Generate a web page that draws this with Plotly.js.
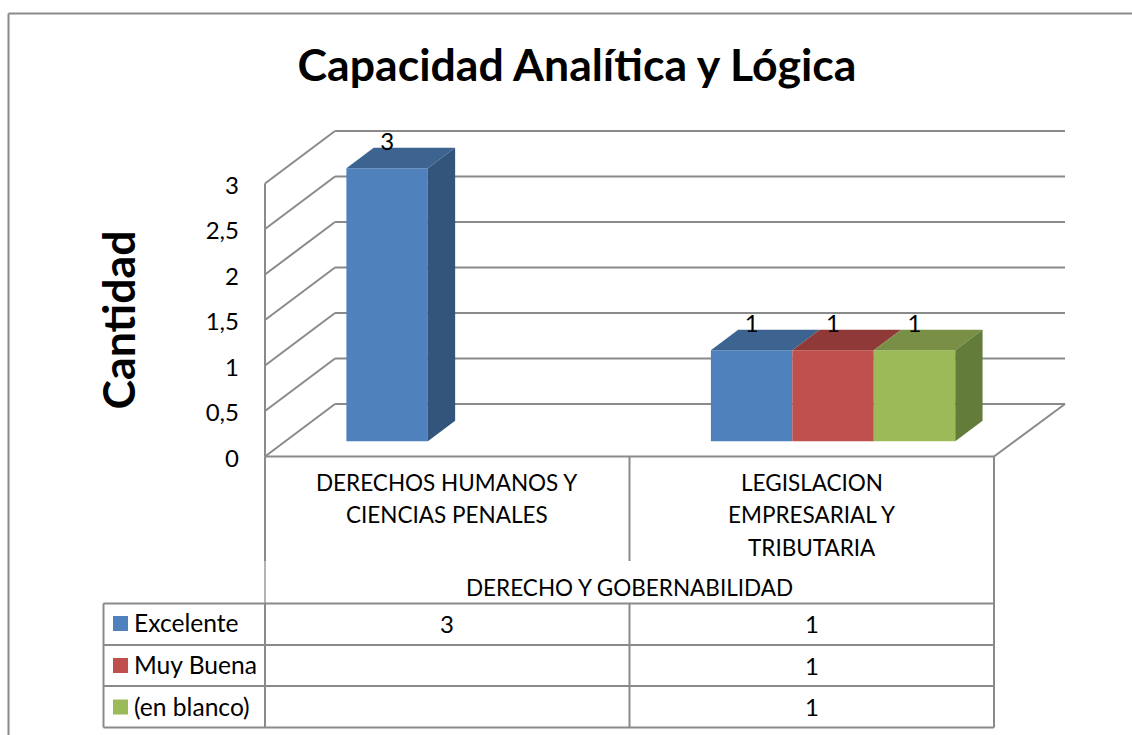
<!DOCTYPE html>
<html><head><meta charset="utf-8">
<script src="https://cdn.plot.ly/plotly-3.0.1.min.js"></script>
<style>html,body{margin:0;padding:0;background:#fff;overflow:hidden}</style>
</head><body><div id="chart" style="width:1132px;height:735px"></div>
<script>
// ---------- data ----------
const chartTitle = "Capacidad Analítica y Lógica";
const yTitle = "Cantidad";
const groupLabel = "DERECHO Y GOBERNABILIDAD";
const categoryLines = [
  ["DERECHOS HUMANOS Y", "CIENCIAS PENALES"],
  ["LEGISLACION", "EMPRESARIAL Y", "TRIBUTARIA"]
];
const seriesNames = ["Excelente", "Muy Buena", "(en blanco)"];
const excelente = [3, 1];
const muyBuena = [null, 1];
const enBlanco = [null, 1];
const yTicks = [0, 0.5, 1, 1.5, 2, 2.5, 3];
const yTickText = ["0", "0,5", "1", "1,5", "2", "2,5", "3"];

// ---------- style ----------
const frontColors = ["#4F81BD", "#C0504D", "#9BBB59"];
const topColors = ["#3D6491", "#8F3A38", "#788F45"];
const sideColors = ["#33547B", "#7A302E", "#647C39"];
const lineColor = "#8A8A8A";
const textFont = "Lato, 'Open Sans', sans-serif";

// ---------- geometry of the frame (pixels) ----------
const W = 1132, H = 735, plotBottom = 640;
const x0 = 265, catW = 364.5, y0 = 456.5, unitH = 91;
const depthDX = 70 / catW, depthDY = 52.5 / unitH;
const barFront = 0.29, barBack = 0.68;
const slots = 4.475, lead = 0.75;
const px = v => v / W, py = v => 1 - v / H;

const allSeries = [excelente, muyBuena, enBlanco];
const traces = [];

// front faces: real bars
allSeries.forEach((vals, s) => {
  traces.push({
    type: "bar", name: seriesNames[s], showlegend: false, hoverinfo: "skip",
    x: vals.map((_, c) => c + (lead + s + 0.5) / slots + barFront * depthDX),
    y: vals,
    base: vals.map(() => barFront * depthDY),
    width: 1 / slots,
    marker: {color: frontColors[s], line: {width: 0}}
  });
});
// top and side faces, projected from the values
allSeries.forEach((vals, s) => {
  vals.forEach((v, c) => {
    if (v === null) return;
    const xl = c + (lead + s) / slots, xr = xl + 1 / slots;
    const X = (x, d) => x + d * depthDX;
    const Y = (val, d) => val + d * depthDY;
    traces.push({
      type: "scatter", mode: "lines", line: {width: 0}, fill: "toself", fillcolor: topColors[s],
      hoverinfo: "skip", showlegend: false,
      x: [X(xl, barFront), X(xr, barFront), X(xr, barBack), X(xl, barBack), X(xl, barFront)],
      y: [Y(v, barFront), Y(v, barFront), Y(v, barBack), Y(v, barBack), Y(v, barFront)]
    });
    const next = allSeries[s + 1];
    if (!next || next[c] === null) {
      traces.push({
        type: "scatter", mode: "lines", line: {width: 0}, fill: "toself", fillcolor: sideColors[s],
        hoverinfo: "skip", showlegend: false,
        x: [X(xr, barFront), X(xr, barBack), X(xr, barBack), X(xr, barFront), X(xr, barFront)],
        y: [Y(0, barFront), Y(0, barBack), Y(v, barBack), Y(v, barFront), Y(0, barFront)]
      });
    }
  });
});
// data labels
allSeries.forEach((vals, s) => {
  traces.push({
    type: "scatter", mode: "text", hoverinfo: "skip", showlegend: false,
    x: vals.map((_, c) => c + (lead + s + 0.5) / slots + barFront * depthDX),
    y: vals.map(v => v === null ? null : v + barFront * depthDY + 24 / unitH),
    text: vals.map(v => v === null ? "" : String(v)),
    textposition: "middle center",
    textfont: {family: textFont, size: 24, color: "#000"}
  });
});

// ---------- frame ----------
const shapes = [];
const seg = (xa, ya, xb, yb, below) => shapes.push({
  type: "line", xref: "paper", yref: "paper", layer: below ? "below" : "above",
  x0: px(xa), y0: py(ya), x1: px(xb), y1: py(yb),
  line: {color: lineColor, width: 2}
});
const dseg = (xa, ya, xb, yb) => shapes.push({
  type: "line", xref: "x", yref: "y", layer: "below",
  x0: xa, y0: ya, x1: xb, y1: yb, line: {color: lineColor, width: 2}
});
const nCat = categoryLines.length;
const backRight = nCat + depthDX + 1 / catW;
yTicks.forEach(t => {
  dseg(0, t, depthDX, t + depthDY);
  dseg(depthDX, t + depthDY, backRight, t + depthDY);
});
dseg(0, 0, 0, yTicks[yTicks.length - 1]);
dseg(0, 0, nCat, 0);
dseg(nCat, 0, backRight, depthDY);

// outer border
seg(8.5, 13.5, W, 13.5, true);
seg(8.5, 13.5, 8.5, H, true);
// axis table
const rows = [603.5, 645, 686, 727.5];
seg(x0, 456.5, x0, 561, true);
shapes.push({type: "line", xref: "paper", yref: "paper", layer: "below",
  x0: px(x0), y0: py(561), x1: px(x0), y1: py(603.5), line: {color: "#B4B4B4", width: 2}});
seg(x0, 603.5, x0, 727.5, true);
seg(x0 + catW, 456.5, x0 + catW, 561, true);
seg(x0 + catW, 603.5, x0 + catW, 727.5, true);
seg(x0 + 2 * catW, 456.5, x0 + 2 * catW, 727.5, true);
seg(103.5, 603.5, 103.5, 727.5, true);
rows.forEach(r => seg(103.5, r, x0 + 2 * catW, r, true));

// ---------- table text ----------
const annotations = [];
const note = (text, x, y, anchor, size) => annotations.push({
  text, xref: "paper", yref: "paper", x: px(x), y: py(y),
  xanchor: anchor, yanchor: "middle", showarrow: false,
  font: {family: textFont, size: size, color: "#000"}
});
const lineY = [482, 514.5, 547];
categoryLines.forEach((lines, c) => lines.forEach((t, i) => note(t, x0 + (c + 0.5) * catW, lineY[i], "center", 22.5)));
note(groupLabel, x0 + catW, 587, "center", 22.5);
const rowMid = [623, 665, 706.5];
allSeries.forEach((vals, s) => {
  note(seriesNames[s], 132, rowMid[s] - 0.5, "left", 24.6);
  shapes.push({type: "rect", xref: "paper", yref: "paper", layer: "above",
    x0: px(113), x1: px(128), y0: py(rowMid[s] - 7), y1: py(rowMid[s] + 8),
    fillcolor: frontColors[s], line: {width: 0}});
  vals.forEach((v, c) => { if (v !== null) note(String(v), x0 + (c + 0.5) * catW, rowMid[s], "center", 24); });
});

const layout = {
  width: W, height: H,
  margin: {l: 0, r: 0, t: 0, b: 0, pad: 0},
  paper_bgcolor: "#fff", plot_bgcolor: "rgba(0,0,0,0)",
  barmode: "overlay", showlegend: false, separators: ", ",
  title: {
    text: "<b>" + chartTitle + "</b>", x: 577 / W, xanchor: "center", xref: "paper",
    y: py(65), yanchor: "middle", yref: "paper",
    font: {family: textFont, size: 44.6, color: "#000"}
  },
  xaxis: {
    visible: false, domain: [0, 1],
    range: [-x0 / catW, (W - x0) / catW], fixedrange: true
  },
  yaxis: {
    domain: [(H - plotBottom) / H, 1],
    range: [-(plotBottom - y0) / unitH, y0 / unitH], fixedrange: true,
    anchor: "free", position: x0 / W, side: "left",
    tickmode: "array", tickvals: yTicks, ticktext: yTickText,
    ticks: "", ticklabelstandoff: 26, ticklabelshift: 2,
    showgrid: false, zeroline: false, showline: false,
    tickfont: {family: textFont, size: 24, color: "#000"},
    title: {text: "<b>" + yTitle + "</b>", standoff: 55,
      font: {family: textFont, size: 44.6, color: "#000"}}
  },
  shapes, annotations
};
Plotly.newPlot("chart", traces, layout, {displayModeBar: false, staticPlot: true});
</script></body></html>
